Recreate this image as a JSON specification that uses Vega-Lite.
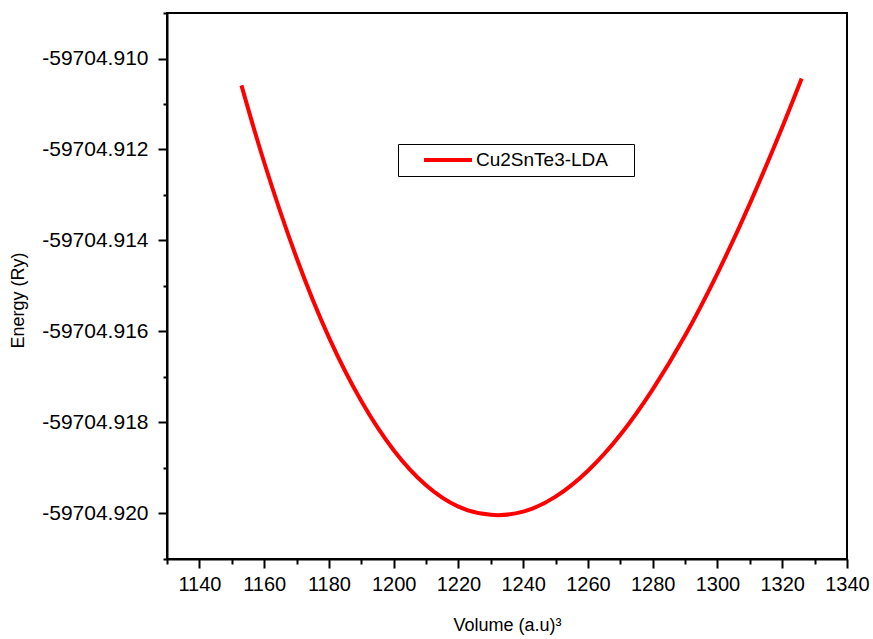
{
  "$schema": "https://vega.github.io/schema/vega-lite/v6.json",
  "width": 680,
  "height": 546,
  "autosize": {"type": "none"},
  "padding": {"left": 167, "top": 13, "right": 26, "bottom": 80},
  "background": "white",
  "config": {
    "view": {"stroke": "black", "strokeWidth": 2},
    "font": "Liberation Sans",
    "axis": {
      "domainColor": "black", "domainWidth": 2, "tickColor": "black", "tickWidth": 2,
      "labelColor": "black", "titleColor": "black", "labelFont": "Liberation Sans", "titleFont": "Liberation Sans",
      "labelFontSize": 20, "titleFontSize": 18, "titleFontWeight": "normal", "grid": false,
      "labelOverlap": false, "labelFlush": false
    }
  },
  "data": {
    "values": [
      {"V": 1153, "E": -59704.91059, "series": "Cu2SnTe3-LDA"},
      {"V": 1160, "E": -59704.91228, "series": "Cu2SnTe3-LDA"},
      {"V": 1170, "E": -59704.91438, "series": "Cu2SnTe3-LDA"},
      {"V": 1180, "E": -59704.91613, "series": "Cu2SnTe3-LDA"},
      {"V": 1190, "E": -59704.91753, "series": "Cu2SnTe3-LDA"},
      {"V": 1200, "E": -59704.91861, "series": "Cu2SnTe3-LDA"},
      {"V": 1210, "E": -59704.91938, "series": "Cu2SnTe3-LDA"},
      {"V": 1220, "E": -59704.91985, "series": "Cu2SnTe3-LDA"},
      {"V": 1230, "E": -59704.92003, "series": "Cu2SnTe3-LDA"},
      {"V": 1240, "E": -59704.91996, "series": "Cu2SnTe3-LDA"},
      {"V": 1250, "E": -59704.91963, "series": "Cu2SnTe3-LDA"},
      {"V": 1260, "E": -59704.91906, "series": "Cu2SnTe3-LDA"},
      {"V": 1270, "E": -59704.91827, "series": "Cu2SnTe3-LDA"},
      {"V": 1280, "E": -59704.91727, "series": "Cu2SnTe3-LDA"},
      {"V": 1290, "E": -59704.91609, "series": "Cu2SnTe3-LDA"},
      {"V": 1300, "E": -59704.91472, "series": "Cu2SnTe3-LDA"},
      {"V": 1310, "E": -59704.91319, "series": "Cu2SnTe3-LDA"},
      {"V": 1320, "E": -59704.91151, "series": "Cu2SnTe3-LDA"},
      {"V": 1326, "E": -59704.91044, "series": "Cu2SnTe3-LDA"}
    ]
  },
  "mark": {"type": "line", "interpolate": "natural", "strokeWidth": 4},
  "encoding": {
    "x": {
      "field": "V", "type": "quantitative",
      "scale": {"domain": [1130, 1340], "nice": false, "zero": false},
      "axis": {
        "title": "Volume (a.u)³",
        "values": [1130, 1140, 1150, 1160, 1170, 1180, 1190, 1200, 1210, 1220, 1230, 1240, 1250, 1260, 1270, 1280, 1290, 1300, 1310, 1320, 1330, 1340],
        "labelExpr": "datum.value % 20 == 0 ? format(datum.value, 'd') : ''",
        "tickSize": {"condition": {"test": "datum.value % 20 == 0", "value": 9}, "value": 5},
        "labelPadding": 6,
        "titlePadding": 22
      }
    },
    "y": {
      "field": "E", "type": "quantitative",
      "scale": {"domain": [-59704.921, -59704.909], "nice": false, "zero": false},
      "axis": {
        "title": "Energy (Ry)",
        "values": [-59704.921, -59704.92, -59704.919, -59704.918, -59704.917, -59704.916, -59704.915, -59704.914, -59704.913, -59704.912, -59704.911, -59704.91, -59704.909],
        "labelExpr": "abs(round(datum.value * 1000)) % 2 == 0 ? replace(format(datum.value, '.3f'), '\u2212', '-') : ''",
        "tickSize": {"condition": {"test": "abs(round(datum.value * 1000)) % 2 == 0", "value": 9}, "value": 4},
        "labelFontSize": 21,
        "labelPadding": 10,
        "titleX": -140,
        "titleY": 287
      }
    },
    "color": {
      "field": "series", "type": "nominal",
      "scale": {"range": ["#ff0000"]},
      "legend": {
        "title": null, "orient": "none", "legendX": 231, "legendY": 131,
        "strokeColor": "black", "fillColor": "white", "padding": 6, "clipHeight": 20,
        "symbolType": "stroke", "symbolSize": 2304, "symbolStrokeWidth": 4, "symbolOffset": 18,
        "labelOffset": 2, "labelFontSize": 19, "labelFont": "Liberation Sans", "labelColor": "black", "labelLimit": 300,
        "labelExpr": "datum.label + '\u2003\u200b'"
      }
    }
  }
}
